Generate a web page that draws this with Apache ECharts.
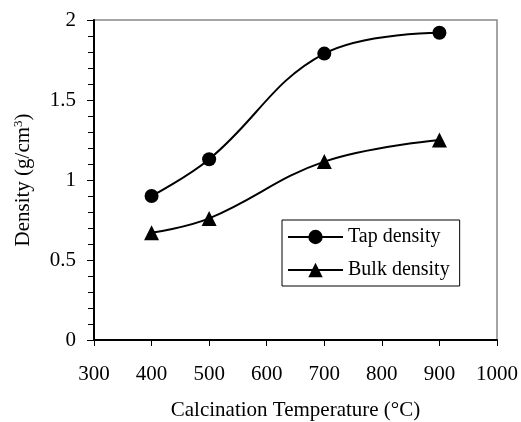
<!DOCTYPE html>
<html>
<head>
<meta charset="utf-8">
<script src="https://cdn.jsdelivr.net/npm/echarts@6/dist/echarts.min.js"></script>
<style>
  html, body { margin: 0; padding: 0; background: #fff; }
  #chart { width: 521px; height: 422px; }
</style>
</head>
<body>
<div id="chart"></div>
<script>
// 煅烧温度 (°C)
const temps = [400, 500, 700, 900];
// 振实密度 / 松装密度
const tapDensity = [0.90, 1.13, 1.79, 1.92];
const bulkDensity = [0.67, 0.76, 1.115, 1.25];
const seriesNames = ['Tap density', 'Bulk density'];

const serif = '"Liberation Serif", "Times New Roman", serif';

function pairs(xs, ys) {
    return xs.map(function (x, i) { return [x, ys[i]]; });
}

let option = {
    animation: false,
    color: ['#000', '#000'],
    grid: {
        left: 94,
        top: 20,
        right: 24,
        bottom: 82,
        // 固定绘图区，不随标签收缩
        outerBoundsMode: 'none',
        containLabel: false,
        // 上、右边框为灰色
        show: true,
        borderColor: '#888',
        borderWidth: 1.5
    },
    legend: {
        data: seriesNames,
        orient: 'vertical',
        left: 282,
        top: 220,
        padding: [7, 10, 6, 5],
        itemGap: 13,
        itemWidth: 55,
        itemHeight: 18,
        borderColor: '#000',
        borderWidth: 1,
        textStyle: { fontFamily: serif, fontSize: 20, color: '#000' }
    },
    xAxis: {
        type: 'value',
        min: 300,
        max: 1000,
        interval: 100,
        name: 'Calcination Temperature (°C)',
        nameLocation: 'middle',
        nameGap: 60,
        nameTextStyle: { fontFamily: serif, fontSize: 21, color: '#000' },
        splitLine: { show: false },
        axisLine: { lineStyle: { color: '#000', width: 2 } },
        axisTick: { show: true, length: 6, lineStyle: { color: '#000', width: 1 } },
        axisLabel: {
            margin: 24,
            fontFamily: serif,
            fontSize: 21,
            color: '#000',
            formatter: function (v) { return String(v); }
        }
    },
    yAxis: {
        type: 'value',
        min: 0,
        max: 2,
        interval: 0.5,
        name: '{a|Density (g/cm}{s|3}{a|)}',
        nameLocation: 'middle',
        nameRotate: 90,
        nameGap: 60,
        nameTextStyle: {
            rich: {
                a: { fontFamily: serif, fontSize: 21, color: '#000' },
                s: { fontFamily: serif, fontSize: 13, color: '#000', verticalAlign: 'top', padding: [0, 0, 9, 0] }
            }
        },
        splitLine: { show: false },
        axisLine: { lineStyle: { color: '#000', width: 2 } },
        axisTick: { show: true, length: 7, lineStyle: { color: '#000', width: 1 } },
        minorTick: { show: true, splitNumber: 5, length: 6, lineStyle: { color: '#000', width: 1 } },
        axisLabel: {
            margin: 18,
            fontFamily: serif,
            fontSize: 21,
            color: '#000',
            formatter: function (v) { return String(v); }
        }
    },
    series: [
        {
            name: seriesNames[0],
            type: 'line',
            data: pairs(temps, tapDensity),
            smooth: 0.4,
            symbol: 'circle',
            symbolSize: 14,
            lineStyle: { color: '#000', width: 2 },
            itemStyle: { color: '#000' }
        },
        {
            name: seriesNames[1],
            type: 'line',
            data: pairs(temps, bulkDensity),
            smooth: 0.4,
            symbol: 'triangle',
            symbolSize: 15,
            lineStyle: { color: '#000', width: 2 },
            itemStyle: { color: '#000' }
        }
    ]
};

let chart = echarts.init(document.getElementById('chart'), null, { renderer: 'canvas' });
chart.setOption(option);
</script>
</body>
</html>
